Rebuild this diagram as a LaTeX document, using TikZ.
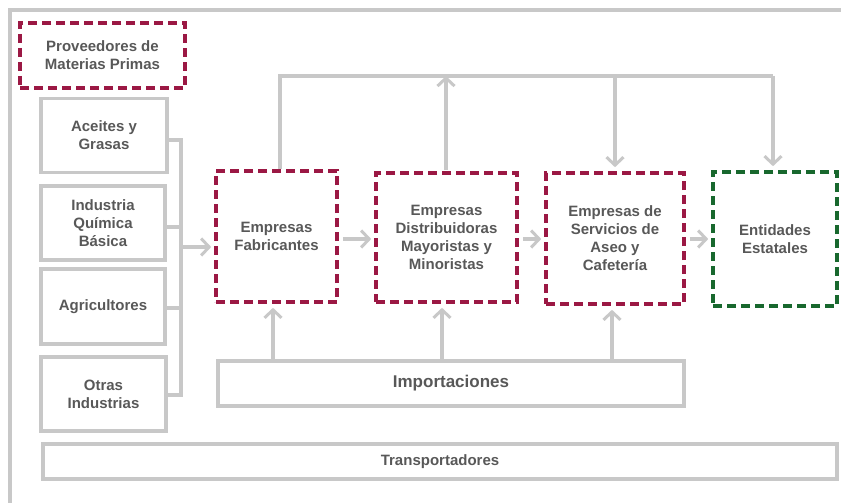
\documentclass[tikz,border=0pt]{standalone}
\usepackage{fontspec}
\setmainfont{Liberation Sans}
\usetikzlibrary{arrows.meta}
\definecolor{lg}{RGB}{200,200,200}
\definecolor{dred}{RGB}{155,24,68}
\definecolor{dgreen}{RGB}{24,104,46}
\definecolor{txt}{RGB}{88,88,88}
\tikzset{
  gbox/.style={draw=lg, line width=3.2pt, rectangle, align=center, text=txt, font=\fontsize{15}{18}\selectfont\bfseries, inner sep=2pt},
  rbox/.style={draw=dred, line width=3.6pt, dash pattern=on 9pt off 5pt, rectangle, align=center, text=txt, font=\fontsize{15}{18}\selectfont\bfseries, inner sep=2pt},
  vbox/.style={rbox, draw=dgreen},
  conn/.style={draw=lg, line width=3.2pt},
  arr/.style={conn, -{Straight Barb[length=8pt,width=17pt,line width=3pt]}},
}
\begin{document}
\begin{tikzpicture}[x=1pt,y=-1pt]
\useasboundingbox (0,0) rectangle (841,503);
% outer frame
\draw[conn] (10,503) -- (10,10) -- (841,10);
% nodes
\node[rbox, minimum width=165, minimum height=65] (prov) at (102.5,55.5) {Proveedores de\\Materias Primas};
\node[gbox, minimum width=126, minimum height=74] (aceites) at (104,135.5) {Aceites y\\Grasas};
\node[gbox, minimum width=124, minimum height=74] (quim) at (103,223) {Industria\\Química\\Básica};
\node[gbox, minimum width=124, minimum height=75] (agri) at (103,306.5) {Agricultores};
\node[gbox, minimum width=125, minimum height=74] (otras) at (103.5,394) {Otras\\Industrias};
\node[rbox, minimum width=121, minimum height=131] (fab) at (276.5,236.5) {Empresas\\Fabricantes};
\node[rbox, minimum width=141, minimum height=129] (dist) at (446.5,237.5) {Empresas\\Distribuidoras\\Mayoristas y\\Minoristas};
\node[rbox, minimum width=138, minimum height=131] (serv) at (615,238.5) {Empresas de\\Servicios de\\Aseo y\\Cafetería};
\node[vbox, minimum width=124, minimum height=134] (ent) at (775,239) {Entidades\\Estatales};
\node[gbox, minimum width=466, minimum height=45, font=\fontsize{17}{20}\selectfont\bfseries] (imp) at (451,383.5) {Importaciones};
\node[gbox, minimum width=794, minimum height=35] (trans) at (440,461.5) {Transportadores};
% bracket
\coordinate (bt) at (181,140);
\coordinate (bq) at (181,227);
\coordinate (ba) at (181,308);
\coordinate (bb) at (181,395);
\coordinate (br) at (181,247);
\draw[conn] (aceites.east |- bt) -- (bt) -- (bb) -- (otras.east |- bb);
\draw[conn] (quim.east |- bq) -- (bq);
\draw[conn] (agri.east |- ba) -- (ba);
\draw[arr, shorten >=3pt] (br) -- (br -| fab.west);
% horizontal flow
\coordinate (h1) at (0,239);
\draw[arr, shorten <=4pt, shorten >=3pt] (fab.east |- h1) -- (dist.west |- h1);
\draw[arr, shorten <=4pt, shorten >=3pt] (dist.east |- h1) -- (serv.west |- h1);
\draw[arr, shorten <=4pt, shorten >=3pt] (serv.east |- h1) -- (ent.west |- h1);
% top loop
\coordinate (tl) at (280,76);
\coordinate (tr) at (773,76);
\coordinate (td) at (446,76);
\coordinate (ts) at (615,76);
\draw[conn] (tl |- fab.north) -- (tl) -- (tr);
\draw[arr, shorten >=4pt] (tr) -- (tr |- ent.north);
\draw[arr, shorten <=1pt] (td |- dist.north) -- (td);
\draw[arr, shorten >=4pt] (ts) -- (ts |- serv.north);
% importaciones arrows
\coordinate (i1) at (273,0);
\coordinate (i2) at (442,0);
\coordinate (i3) at (612,0);
\draw[arr, shorten >=4pt] (i1 |- imp.north) -- (i1 |- fab.south);
\draw[arr, shorten >=4pt] (i2 |- imp.north) -- (i2 |- dist.south);
\draw[arr, shorten >=4pt] (i3 |- imp.north) -- (i3 |- serv.south);
\end{tikzpicture}
\end{document}
